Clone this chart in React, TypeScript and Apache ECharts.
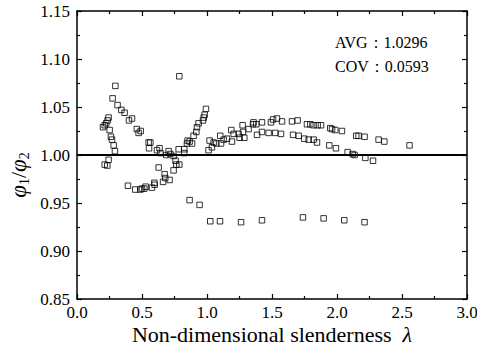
import React, { useEffect, useRef } from 'react';
import * as echarts from 'echarts';

// Non-dimensional slenderness (x) and phi1/phi2 (y)
const lambdaValues = [
  0.200, 0.213, 0.225, 0.235, 0.243, 0.251, 0.261, 0.269, 0.282, 0.292, 0.243, 0.213, 0.233,
  0.295, 0.274, 0.312, 0.341, 0.366, 0.400, 0.423, 0.460, 0.474, 0.490, 0.551, 0.564, 0.554, 0.615, 0.635, 0.641, 0.687, 0.705, 0.718, 0.743,
  0.392, 0.448, 0.487, 0.500, 0.518, 0.528, 0.577, 0.597, 0.595, 0.628, 0.662, 0.679, 0.674, 0.712, 0.758, 0.764, 0.743, 0.787,
  0.782, 0.825, 0.825, 0.846, 0.866, 0.885, 0.851, 0.897, 0.918, 0.923, 0.935, 0.969, 0.975, 0.982, 0.992,
  0.787, 0.866, 0.943, 1.025, 1.100, 1.262, 1.423, 1.738, 1.897, 2.056, 2.212,
  1.012, 1.020, 1.038, 1.051, 1.072, 1.102, 1.108, 1.128, 1.154, 1.187, 1.192, 1.205, 1.243, 1.251, 1.274, 1.277, 1.287, 1.320,
  1.354, 1.358, 1.379, 1.385, 1.423, 1.423, 1.474, 1.492, 1.508, 1.525, 1.538, 1.569, 1.577, 1.654, 1.662, 1.697, 1.705,
  1.769, 1.795, 1.820, 1.851, 1.748, 1.782, 1.820, 1.846, 1.877, 1.948, 1.962, 1.987, 2.038, 2.148, 2.166, 2.212, 2.320, 2.364, 2.558,
  1.941, 1.992, 2.082, 2.120, 2.135, 2.218, 2.277,
];
const ratioValues = [
  1.029, 1.031, 1.033, 1.036, 1.039, 1.026, 1.019, 1.016, 1.010, 1.004, 0.995, 0.990, 0.989,
  1.072, 1.059, 1.052, 1.047, 1.044, 1.036, 1.038, 1.027, 1.023, 1.025, 1.013, 1.013, 1.007, 1.005, 1.007, 1.002, 1.000, 1.004, 1.001, 0.999,
  0.968, 0.964, 0.964, 0.965, 0.965, 0.967, 0.966, 0.969, 0.971, 0.987, 0.972, 0.976, 0.980, 0.974, 0.994, 0.990, 0.984, 0.990,
  1.006, 1.006, 1.002, 1.012, 1.014, 1.012, 1.015, 1.020, 1.024, 1.029, 1.033, 1.036, 1.039, 1.042, 1.048,
  1.082, 0.953, 0.948, 0.931, 0.931, 0.930, 0.932, 0.935, 0.934, 0.932, 0.930,
  1.005, 1.015, 1.008, 1.013, 1.012, 1.020, 1.012, 1.016, 1.017, 1.026, 1.014, 1.022, 1.022, 1.018, 1.031, 1.024, 1.018, 1.027,
  1.032, 1.034, 1.032, 1.021, 1.034, 1.024, 1.023, 1.034, 1.037, 1.023, 1.038, 1.022, 1.035, 1.035, 1.021, 1.036, 1.020,
  1.032, 1.032, 1.031, 1.031, 1.017, 1.016, 1.016, 1.013, 1.031, 1.028, 1.027, 1.026, 1.025, 1.020, 1.020, 1.019, 1.016, 1.014, 1.010,
  1.010, 1.007, 1.003, 1.001, 1.000, 0.997, 0.994,
];
const referenceRatio = 1.0;
const xTickLabels = ['0.0', '0.5', '1.0', '1.5', '2.0', '2.5', '3.0'];
const yTickLabels = ['0.85', '0.90', '0.95', '1.00', '1.05', '1.10', '1.15'];
const statLines = ['AVG：1.0296', 'COV：0.0593'];

const FONT = 'Times New Roman, Liberation Serif, serif';

export default function App() {
  const ref = useRef<HTMLDivElement>(null);
  useEffect(() => {
    document.body.style.margin = '0';
    if (!ref.current) return;
    const chart = echarts.init(ref.current, null, { renderer: 'svg' });
    const points = lambdaValues.map((x, i) => [x, ratioValues[i]]);
    const axisLine = { show: true, onZero: false, lineStyle: { color: '#000', width: 1.5 } };
    const tick = { show: true, inside: true, length: 5, lineStyle: { color: '#000', width: 1.2 } };
    const minor = { show: true, splitNumber: 2, length: 3, lineStyle: { color: '#000', width: 1.2 } };
    const xBase = {
      type: 'value', min: 0, max: 3, interval: 0.5,
      axisLine, axisTick: tick, minorTick: minor,
      splitLine: { show: false }, minorSplitLine: { show: false },
    };
    const yBase = {
      type: 'value', min: 0.85, max: 1.15, interval: 0.05,
      axisLine, axisTick: tick, minorTick: minor,
      splitLine: { show: false }, minorSplitLine: { show: false },
    };
    chart.setOption({
      animation: false,
      backgroundColor: '#fff',
      textStyle: { fontFamily: FONT },
      grid: { left: 77, right: 10, top: 11, bottom: 48, containLabel: false, outerBoundsMode: 'none' },
      xAxis: [
        {
          ...xBase, position: 'bottom',
          axisLabel: {
            color: '#000', fontFamily: FONT, fontSize: 17, margin: 5,
            formatter: (v: number) => xTickLabels[Math.round(v / 0.5)] ?? '',
          },
        },
        { ...xBase, position: 'top', axisLabel: { show: false } },
      ],
      yAxis: [
        {
          ...yBase, position: 'left',
          axisLabel: {
            color: '#000', fontFamily: FONT, fontSize: 17, margin: 7,
            formatter: (v: number) => yTickLabels[Math.round((v - 0.85) / 0.05)] ?? '',
          },
        },
        { ...yBase, position: 'right', axisLabel: { show: false } },
      ],
      graphic: [
        {
          type: 'text', x: 272, y: 334,
          style: {
            text: '{t|Non-dimensional slenderness  }{l|λ}',
            align: 'center', verticalAlign: 'middle',
            rich: {
              t: { fontFamily: FONT, fontSize: 22, lineHeight: 22, fill: '#000' },
              l: { fontFamily: FONT, fontStyle: 'italic', fontSize: 22, lineHeight: 22, fill: '#000' },
            },
          },
        },
        {
          type: 'text', x: 18, y: 175, rotation: Math.PI / 2,
          style: {
            text: '{p|φ}{s|1}{sl|/}{p|φ}{s|2}',
            align: 'center', verticalAlign: 'middle',
            rich: {
              p: { fontFamily: FONT, fontStyle: 'italic', fontSize: 23, fill: '#000' },
              s: { fontFamily: FONT, fontSize: 14, fill: '#000', padding: [12, 0, 0, 0] },
              sl: { fontFamily: FONT, fontSize: 22, fill: '#000' },
            },
          },
        },
        {
          type: 'text', x: 335, y: 42,
          style: { text: statLines[0], fontFamily: FONT, fontSize: 16, fill: '#000', verticalAlign: 'middle' },
        },
        {
          type: 'text', x: 335, y: 66,
          style: { text: statLines[1], fontFamily: FONT, fontSize: 16, fill: '#000', verticalAlign: 'middle' },
        },
      ],
      series: [
        {
          type: 'scatter', data: points, symbol: 'rect', symbolSize: 5.5,
          itemStyle: { color: 'rgba(255,255,255,0)', borderColor: '#000', borderWidth: 1 },
          markLine: {
            silent: true, symbol: 'none', label: { show: false },
            lineStyle: { color: '#000', width: 2, type: 'solid' },
            data: [{ yAxis: referenceRatio }],
          },
        },
      ],
    });
    return () => chart.dispose();
  }, []);
  return <div ref={ref} style={{ width: 477, height: 347 }} />;
}
